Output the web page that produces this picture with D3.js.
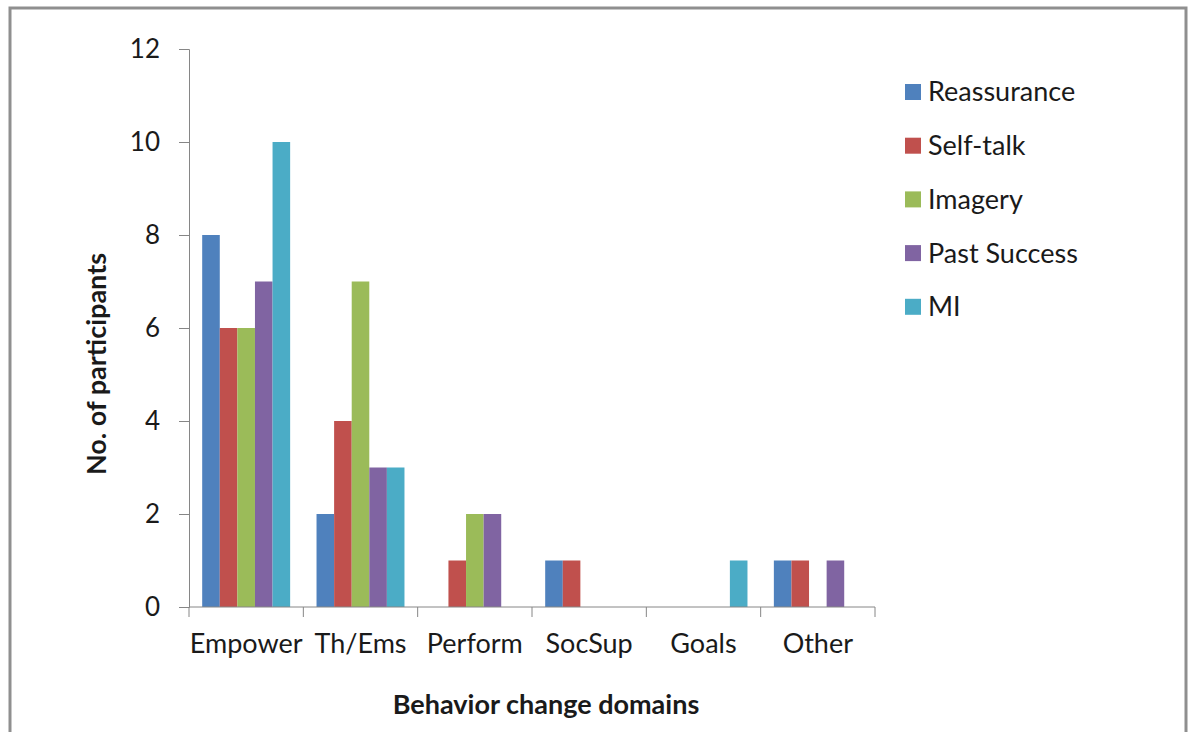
<!DOCTYPE html>
<html>
<head>
<meta charset="utf-8">
<script src="https://cdn.jsdelivr.net/npm/d3@7"></script>
<style>
  html, body { margin: 0; padding: 0; background: #fff; }
  svg { display: block; }
  text { font-family: Lato, "Open Sans", sans-serif; fill: #1a1a1a; }
</style>
</head>
<body>
<script>
// Behavior change domains by technique
const categories = ["Empower", "Th/Ems", "Perform", "SocSup", "Goals", "Other"];
const seriesNames = ["Reassurance", "Self-talk", "Imagery", "Past Success", "MI"];
const reassurance = [8, 2, 0, 1, 0, 1];
const selfTalk    = [6, 4, 1, 1, 0, 1];
const imagery     = [6, 7, 2, 0, 0, 0];
const pastSuccess = [7, 3, 2, 0, 0, 1];
const mi          = [10, 3, 0, 0, 1, 0];
const yTicks = [0, 2, 4, 6, 8, 10, 12];
const colors = ["#4F81BD", "#C0504D", "#9BBB59", "#8064A2", "#4BACC6"];

const seriesValues = [reassurance, selfTalk, imagery, pastSuccess, mi];

const W = 1189, H = 732;
const plot = { left: 189, right: 875, top: 49, bottom: 607 };

const svg = d3.select("body").append("svg")
  .attr("width", W).attr("height", H);

// outer frame
svg.append("rect")
  .attr("x", 10).attr("y", 8)
  .attr("width", 1176).attr("height", 740)
  .attr("fill", "#fff")
  .attr("stroke", "#8f8f8f").attr("stroke-width", 3);

const x0 = d3.scaleBand().domain(categories).range([plot.left, plot.right]).padding(0);
const x1 = d3.scaleBand().domain(seriesNames).range([0, x0.bandwidth()])
  .paddingInner(0).paddingOuter(0.75);
const y = d3.scaleLinear().domain([0, 12]).range([plot.bottom, plot.top]);
const color = d3.scaleOrdinal().domain(seriesNames).range(colors);

// bars
const groups = svg.append("g").selectAll("g")
  .data(categories)
  .join("g")
  .attr("transform", d => `translate(${x0(d)},0)`);

groups.selectAll("rect")
  .data((c, i) => seriesNames.map((s, j) => ({ s, v: seriesValues[j][i] })))
  .join("rect")
  .filter(d => d.v > 0)
  .attr("x", d => x1(d.s))
  .attr("y", d => y(d.v))
  .attr("width", x1.bandwidth())
  .attr("height", d => y(0) - y(d.v))
  .attr("fill", d => color(d.s));

// y axis
const yAxis = svg.append("g")
  .attr("transform", `translate(${plot.left},0)`)
  .call(d3.axisLeft(y).tickValues(yTicks).tickSize(10).tickPadding(19));
yAxis.select(".domain").attr("stroke", "#868686");
yAxis.selectAll(".tick line").attr("stroke", "#868686");
yAxis.selectAll(".tick text")
  .attr("font-size", 26)
  .attr("fill", "#1a1a1a")
  .style("font-family", "Lato, 'Open Sans', sans-serif");

// x axis with category boundary ticks
const xAxis = svg.append("g")
  .attr("transform", `translate(0,${plot.bottom})`);
xAxis.append("line")
  .attr("x1", plot.left).attr("x2", plot.right)
  .attr("stroke", "#868686");
const boundaries = categories.map(c => x0(c)).concat([x0(categories[categories.length - 1]) + x0.bandwidth()]);
xAxis.selectAll("line.tk")
  .data(boundaries)
  .join("line")
  .attr("class", "tk")
  .attr("x1", d => d).attr("x2", d => d)
  .attr("y1", 0).attr("y2", 10)
  .attr("stroke", "#868686");
xAxis.selectAll("text")
  .data(categories)
  .join("text")
  .attr("x", d => x0(d) + x0.bandwidth() / 2)
  .attr("y", 46)
  .attr("text-anchor", "middle")
  .attr("font-size", 27)
  .text(d => d);

// axis titles
svg.append("text")
  .attr("x", 546).attr("y", 714)
  .attr("text-anchor", "middle")
  .attr("font-size", 27).attr("font-weight", "bold")
  .text("Behavior change domains");

svg.append("text")
  .attr("transform", "translate(106,364) rotate(-90)")
  .attr("text-anchor", "middle")
  .attr("font-size", 27).attr("font-weight", "bold")
  .text("No. of participants");

// legend
const legend = svg.append("g").selectAll("g")
  .data(seriesNames)
  .join("g")
  .attr("transform", (d, i) => `translate(905,${92 + i * 53.7})`);
legend.append("rect")
  .attr("x", 0).attr("y", -8)
  .attr("width", 16).attr("height", 16)
  .attr("fill", d => color(d));
legend.append("text")
  .attr("x", 23).attr("y", 0)
  .attr("dy", "0.35em")
  .attr("font-size", 27)
  .text(d => d);
</script>
</body>
</html>
